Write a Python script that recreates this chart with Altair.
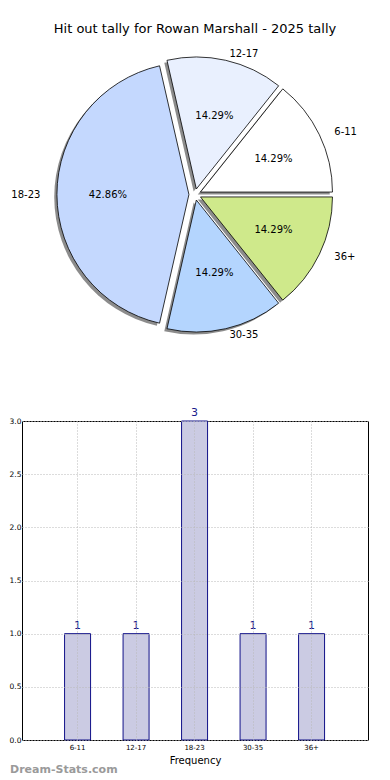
import altair as alt
import pandas as pd

# ---- data ----
categories = ["6-11", "12-17", "18-23", "30-35", "36+"]
counts = [1, 1, 3, 1, 1]
pie_colors = ["#ffffff", "#e9f0fe", "#c4d8fe", "#b4d5fe", "#cfe98b"]
y_ticks = [0.0, 0.5, 1.0, 1.5, 2.0, 2.5, 3.0]

FONT = "DejaVu Sans"

# ---- pie geometry (layout constants) ----
PW, PH = 346, 350          # pie panel size
CY = 151.5                 # pie centre (px from panel top)
UX, UY = 135.0, 125.5      # px per unit radius (x / y)
R = 132                    # drawn radius in px
EXPLODE = 0.045
SH = 0.02

df = pd.DataFrame({
    "cat": categories,
    "count": counts,
    "order": list(range(len(categories))),
    "color": pie_colors,
})

xs = alt.Scale(domain=[-PW / 2 / UX, PW / 2 / UX], nice=False, zero=False)
ys = alt.Scale(domain=[-(PH - CY) / UY, CY / UY], nice=False, zero=False)

base = (
    alt.Chart(df)
    .transform_joinaggregate(total="sum(count)")
    .transform_window(cum="sum(count)", sort=[alt.SortField("order")], frame=[None, 0])
    .transform_calculate(
        a0="2*PI*(datum.cum - datum.count)/datum.total",
        a1="2*PI*datum.cum/datum.total",
    )
    .transform_calculate(
        mid="(datum.a0 + datum.a1)/2",
        t0="PI/2 - datum.a1",
        t1="PI/2 - datum.a0",
        pct="format(100*datum.count/datum.total, '.2f') + '%'",
    )
    .transform_calculate(
        ex=f"{EXPLODE}*cos(datum.mid)",
        ey=f"{EXPLODE}*sin(datum.mid)",
    )
    .transform_calculate(
        lx="datum.ex + 1.1*cos(datum.mid)",
        ly="datum.ey + 1.1*sin(datum.mid)",
        px="datum.ex + 0.6*cos(datum.mid)",
        py="datum.ey + 0.6*sin(datum.mid)",
    )
)

wedges = (
    base.transform_calculate(shadow="1", wedge="0")
    .transform_fold(["shadow", "wedge"], as_=["kind", "flag"])
    .transform_calculate(
        wx=f"datum.kind == 'shadow' ? datum.ex - {SH} : datum.ex",
        wy=f"datum.kind == 'shadow' ? datum.ey - {SH} : datum.ey",
        fc="datum.kind == 'shadow' ? 'rgba(0,0,0,0.45)' : datum.color",
        sc="datum.kind == 'shadow' ? 'rgba(0,0,0,0)' : '#000000'",
    )
    .mark_arc(radius=R, strokeWidth=0.8)
    .encode(
        x=alt.X("wx:Q", scale=xs, axis=None),
        y=alt.Y("wy:Q", scale=ys, axis=None),
        theta=alt.Theta("t0:Q", scale=None),
        theta2="t1:Q",
        fill=alt.Fill("fc:N", scale=None),
        stroke=alt.Stroke("sc:N", scale=None),
    )
)

pct_text = base.mark_text(font=FONT, fontSize=10, color="black").encode(
    x=alt.X("px:Q", scale=xs, axis=None),
    y=alt.Y("py:Q", scale=ys, axis=None),
    text="pct:N",
)

lab_left = base.transform_filter("cos(datum.mid) >= 0").mark_text(
    font=FONT, fontSize=10, color="black", align="left", baseline="middle"
).encode(
    x=alt.X("lx:Q", scale=xs, axis=None),
    y=alt.Y("ly:Q", scale=ys, axis=None),
    text="cat:N",
)
lab_right = base.transform_filter("cos(datum.mid) < 0").mark_text(
    font=FONT, fontSize=10, color="black", align="right", baseline="middle"
).encode(
    x=alt.X("lx:Q", scale=xs, axis=None),
    y=alt.Y("ly:Q", scale=ys, axis=None),
    text="cat:N",
)

pie = alt.layer(wedges, pct_text, lab_left, lab_right).properties(
    width=PW,
    height=PH,
    title=alt.TitleParams(
        "Hit out tally for Rowan Marshall - 2025 tally",
        font=FONT, fontSize=13, fontWeight="normal", color="black",
        anchor="middle", offset=7,
    ),
    view=alt.ViewBackground(stroke=None),
)

# ---- bar chart ----
bdf = pd.DataFrame({"cat": categories, "count": counts})
GRID = dict(gridDash=[1, 2], gridColor="#b8b8b8", gridWidth=1)
bx = alt.X(
    "cat:N",
    sort=categories,
    scale=alt.Scale(paddingInner=0.5556, paddingOuter=0.735, align=0.495),
    axis=alt.Axis(
        title="Frequency", labelAngle=0, bandPosition=0.5, grid=True,
        ticks=False, domain=False,
        labelFont=FONT, labelFontSize=7, labelColor="black", labelPadding=3,
        titleFont=FONT, titleFontSize=10, titleFontWeight="normal", titleColor="black",
        titlePadding=5, zindex=1, **GRID,
    ),
)
by = alt.Y(
    "count:Q",
    scale=alt.Scale(domain=[0, 3], nice=False),
    axis=alt.Axis(
        title=None, values=y_ticks, format=".1f", grid=True,
        ticks=False, domain=False,
        labelFont=FONT, labelFontSize=7.5, labelColor="black", labelPadding=1,
        zindex=1, **GRID,
    ),
)

bars = alt.Chart(bdf).mark_bar(fill="#cbcbe3", stroke="#101088", strokeWidth=1).encode(x=bx, y=by)
bar_text = alt.Chart(bdf).mark_text(
    font=FONT, fontSize=11, color="#1a1a8c", baseline="bottom", dy=-3
).encode(x=bx, y=by, text="count:Q")
watermark = alt.Chart(bdf).transform_aggregate(n="count()").mark_text(
    text="Dream-Stats.com", font=FONT, fontSize=11, fontWeight="bold",
    color="#9a9a9a", align="left", baseline="middle",
).encode(x=alt.value(-12), y=alt.value(349))

bar_chart = alt.layer(bars, bar_text, watermark).properties(
    width=346, height=319,
    view=alt.ViewBackground(stroke="black", strokeWidth=1),
)

chart = (
    alt.vconcat(pie, bar_chart, spacing=13)
    .properties(padding={"left": 0, "top": 15, "right": 0, "bottom": 0})
    .configure_view(stroke=None)
)

chart.save("out.html", embed_options={"renderer": "svg", "actions": False})
